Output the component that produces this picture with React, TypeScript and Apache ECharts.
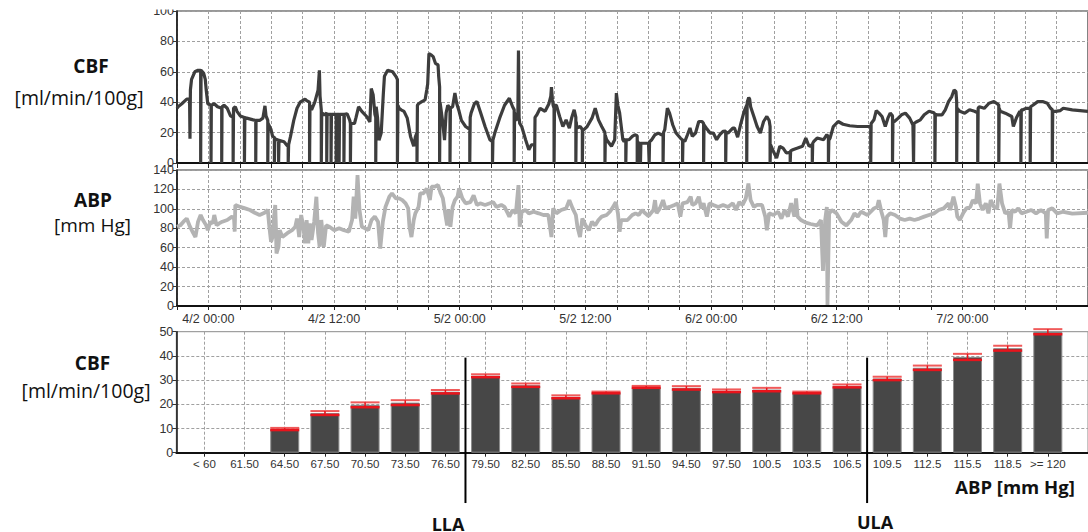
import React, { useEffect, useRef } from "react";
import * as echarts from "echarts";

// CBF trace: [hours from 4/2 00:00, ml/min/100g]
const cbfTrace: [number, number][] = [
  [-3.0, 36], [-2.9, 37], [-2.54, 39], [-2.07, 42], [-1.8, 42], [-1.76, 16], [-1.72, 48], [-1.61, 55], [-1.3, 60], [-0.99, 61], [-0.74, 61], [-0.74, 0], [-0.7, 61], [-0.45, 59], [-0.3, 55], [-0.21, 48], [-0.06, 39],
  [0.25, 38], [0.25, 0], [0.28, 38], [0.56, 39], [0.87, 37], [1.27, 36], [1.27, 0], [1.3, 37], [1.49, 38], [1.8, 36], [2.11, 31], [2.36, 30], [2.36, 0], [2.4, 36], [2.57, 37], [2.73, 34], [3.04, 31], [3.44, 30], [3.44, 0], [3.48, 30], [3.66, 29.5], [4.28, 28.4], [4.52, 28], [4.52, 0], [4.55, 28], [4.89, 28], [5.2, 29.5], [5.4, 37.6], [5.5, 31], [5.67, 28], [5.67, 0], [5.7, 26], [5.98, 22], [6.13, 17.5], [6.3, 17], [6.3, 0], [6.34, 16], [6.7, 15], [6.7, 0], [6.74, 15], [7.22, 14], [7.53, 11.4], [7.62, 11], [7.62, 0], [7.66, 12], [7.84, 17.5],
  [8.15, 28], [8.46, 36], [8.76, 40], [9.23, 42], [9.38, 41], [9.66, 40], [9.66, 0], [9.7, 38], [9.85, 35], [10.16, 40], [10.47, 48], [10.6, 61], [10.66, 44], [10.78, 35], [10.78, 0], [10.82, 33], [11.09, 31.7], [11.3, 33], [11.3, 0], [11.34, 32], [11.71, 32], [11.71, 0], [11.75, 32], [12.2, 32], [12.2, 0], [12.24, 32], [12.48, 32], [12.48, 0], [12.52, 32], [12.94, 32], [12.94, 0], [12.98, 32], [13.25, 32.3], [13.5, 28], [13.56, 26], [13.56, 0], [13.6, 26], [13.95, 26], [14.1, 30], [14.34, 37], [14.65, 34], [15.11, 30.6], [15.42, 27], [15.55, 49], [15.73, 45], [15.9, 32], [15.98, 30], [15.98, 0], [16.02, 37], [16.15, 30], [16.29, 15], [16.5, 19.7], [16.7, 45], [16.81, 57], [17.12, 61], [17.59, 60], [17.9, 57], [18.05, 55], [18.05, 0], [18.1, 38], [18.21, 36],
  [18.4, 35], [18.68, 34], [18.99, 29.5], [19.3, 17.5], [19.61, 11], [19.76, 17], [19.92, 20], [19.92, 0], [19.96, 38], [20.07, 39], [20.38, 40.4], [20.69, 41.5], [20.85, 48], [20.94, 52], [21.06, 72], [21.3, 71], [21.46, 70], [21.68, 65.6], [21.93, 64.5], [21.99, 57], [22.08, 50], [22.08, 0], [22.12, 40], [22.18, 37], [22.39, 26], [22.55, 15], [22.7, 33], [22.86, 38], [23.07, 36], [23.07, 0], [23.11, 36], [23.32, 37], [23.54, 46], [23.72, 39], [23.94, 34], [24.16, 28], [24.56, 24], [24.96, 22], [24.96, 0], [25.0, 30], [25.09, 33], [25.4, 39], [25.64, 40.4], [25.95, 34], [26.42, 24], [26.88, 15.3], [27.13, 14], [27.13, 0], [27.17, 15], [27.35, 19.7], [27.81, 29.5], [28.28, 38], [28.74, 42.6], [29.05, 37], [29.2, 35], [29.2, 0], [29.24, 33], [29.36, 28], [29.55, 30], [29.61, 74], [29.67, 30], [29.73, 26], [29.92, 24], [30.29, 15.3], [30.6, 8.7], [30.85, 12], [31.15, 12], [31.15, 0], [31.19, 30], [31.37, 31.7], [31.68, 36], [32.15, 34], [32.52, 39], [32.7, 44], [32.76, 50], [32.85, 42], [32.92, 38], [33.01, 36], [33.01, 0], [33.05, 38], [33.23, 38], [33.54, 30.6], [33.85, 24], [34.16, 28.4], [34.47, 23], [34.7, 30], [34.93, 35], [35.09, 30], [35.09, 0], [35.13, 27], [35.18, 23], [35.5, 24], [35.71, 22], [35.71, 0], [35.75, 22], [35.86, 21.9], [36.17, 24], [36.63, 29.5], [36.94, 36], [37.25, 28.4], [37.56, 24], [37.87, 20], [37.87, 0], [37.91, 18], [38.03, 15.3], [38.49, 11], [38.8, 15.3], [38.96, 46], [39.1, 38], [39.27, 33], [39.58, 15.3], [39.7, 14], [39.86, 16], [39.86, 0], [39.9, 15.3],
  [40.17, 15.3], [40.48, 17.5], [40.73, 18.6], [40.95, 18], [40.95, 0], [40.99, 14], [41.1, 13], [41.26, 13], [41.26, 0], [41.3, 13], [41.57, 13], [42.03, 13], [42.09, 13], [42.09, 0], [42.13, 14], [42.34, 15.3], [42.65, 18.6], [42.96, 19.7], [43.27, 18.6], [43.42, 18], [43.42, 0], [43.46, 20], [43.58, 21.9], [43.83, 36], [44.04, 32.8], [44.35, 25], [44.66, 19.7], [45.07, 16.4], [45.28, 15], [45.28, 0], [45.32, 15], [45.5, 14.2], [45.75, 18.6], [45.99, 23], [46.21, 17.5], [46.52, 19.7], [46.83, 27.3], [47.14, 27.3], [47.29, 26], [47.29, 0], [47.33, 25], [47.54, 23], [47.91, 19.7], [48.22, 19.7], [48.53, 15.3], [48.84, 18.6], [49.15, 20.8], [49.4, 21], [49.4, 0], [49.44, 20], [49.62, 19.7], [50.08, 23], [50.24, 23], [50.54, 17], [50.85, 26], [51.16, 34], [51.41, 38], [51.41, 0], [51.45, 40], [51.6, 43], [51.69, 42], [51.78, 37], [52.09, 30.6], [52.4, 24], [52.71, 19.7], [53.02, 27.3], [53.33, 30.6], [53.55, 28], [53.64, 24], [53.64, 0], [53.68, 12], [53.95, 7.7], [54.26, 3.3], [54.57, 11], [54.88, 9.8], [55.19, 6.6], [55.56, 7], [55.56, 0], [55.6, 8], [55.81, 8.7], [56.27, 9.8], [56.74, 11], [57.05, 16.4], [57.36, 11], [57.67, 12], [57.67, 0], [57.71, 13], [57.82, 14.2], [58.13, 16.4], [58.75, 15.3], [59.06, 18.6], [59.21, 17], [59.21, 0], [59.25, 15], [59.37, 16.4], [59.68, 24], [60.14, 27.3], [60.61, 25.5], [61.24, 24.5], [62.0, 24], [63.25, 24], [63.25, 0],
  [63.29, 26], [63.56, 28.4], [63.78, 34.5], [64.02, 33], [64.33, 30.6], [64.64, 24], [64.89, 29.5], [65.11, 32.8], [65.33, 31], [65.33, 0], [65.37, 27], [65.51, 27.3], [65.88, 29.5], [66.19, 31.7], [66.56, 32.8], [66.97, 29.5], [67.28, 25], [67.34, 25], [67.34, 0], [67.38, 26], [67.59, 27], [67.99, 28.4], [68.36, 31.7], [68.82, 34], [69.29, 33], [69.38, 32], [69.38, 0], [69.42, 32], [69.6, 31.7], [70.06, 31.7], [70.37, 35], [70.68, 40.4], [70.99, 43.7], [71.21, 48], [71.39, 47], [71.46, 40], [71.46, 0], [71.5, 36], [71.76, 34], [72.23, 32.8], [72.69, 35], [73.16, 34], [73.47, 33], [73.47, 0], [73.51, 36], [73.62, 37], [74.09, 36], [74.55, 39.3], [75.02, 40.4], [75.33, 39], [75.48, 38], [75.48, 0], [75.52, 36], [75.63, 34], [76.1, 32.8], [76.72, 30.6], [76.87, 24], [77.18, 30], [77.49, 34], [77.59, 33], [77.59, 0], [77.63, 35], [77.8, 35], [78.11, 36], [78.48, 36], [78.48, 0], [78.52, 37], [78.73, 38], [79.2, 40.4], [79.66, 40.4], [80.12, 39.3], [80.43, 36], [80.59, 35], [80.59, 0], [80.63, 34], [80.9, 34], [81.36, 34.5], [81.64, 36], [82.5, 35], [84, 34],
];

// ABP trace: [hours from 4/2 00:00, mm Hg]
const abpTrace: [number, number][] = [
  [-3.0, 81.6], [-2.69, 83], [-2.38, 86.8], [-2.07, 90], [-1.76, 81.6], [-1.45, 75], [-1.24, 71], [-0.99, 86.8], [-0.74, 93.7], [-0.52, 88.5], [-0.21, 83], [-0.06, 78], [0.19, 86.8], [0.41, 85], [0.56, 93.7], [0.78, 83], [1.02, 85], [1.33, 86.8], [1.8, 88.5], [2.26, 92], [2.45, 90], [2.51, 76.5], [2.57, 104], [3.04, 102], [3.5, 100.5], [3.97, 98.8], [4.43, 96], [4.89, 93.7], [5.36, 96], [5.67, 98.8], [5.82, 81.6], [5.98, 66], [6.13, 71], [6.25, 90], [6.38, 104], [6.45, 80], [6.5, 54], [6.69, 61], [6.81, 78], [7.06, 71], [7.53, 75], [7.99, 78], [8.3, 81.6], [8.46, 90], [8.67, 71], [8.86, 93.7], [9.07, 81.6], [9.23, 64.5], [9.38, 88.5], [9.54, 64.5], [9.69, 85], [9.85, 68], [10.1, 86.8], [10.31, 112.5], [10.47, 75], [10.62, 61], [10.78, 88.5], [11.02, 61], [11.24, 83], [11.55, 81.6], [12.02, 78], [12.48, 80], [12.94, 78], [13.41, 76.5], [13.72, 88.5], [13.87, 112.5], [14.03, 90], [14.24, 134.8], [14.43, 98.8], [14.65, 81.6], [14.96, 80], [15.27, 78], [15.58, 88.5], [15.89, 92], [16.2, 86.8], [16.41, 59], [16.66, 86.8], [16.91, 102], [17.28, 112.5], [17.53, 116], [17.9, 110.8], [18.21, 110.8],
  [18.52, 109], [18.83, 105.7], [19.08, 100.5], [19.2, 81.6], [19.39, 71], [19.61, 88.5], [19.76, 95.4], [20.07, 102], [20.23, 116], [20.54, 116], [20.85, 121], [21.15, 109], [21.31, 122.8], [21.62, 122.8], [21.93, 124.5], [22.18, 116], [22.39, 110.8], [22.61, 95.4], [22.8, 83], [22.92, 98.8], [23.11, 81.6], [23.32, 102], [23.54, 109], [23.79, 112.5], [23.94, 121], [24.25, 110.8], [24.56, 105.7], [25.02, 107], [25.33, 114], [25.64, 104], [25.95, 105.7], [26.42, 104], [26.88, 105.7], [27.19, 107], [27.5, 102], [27.97, 104], [28.28, 102], [28.59, 95.4], [28.74, 92], [29.05, 98.8], [29.36, 95.4], [29.61, 124.5], [29.73, 81.6], [29.92, 97], [30.29, 98.8], [30.6, 95.4], [31.06, 97], [31.53, 95.4], [31.99, 93.7], [32.46, 93.7], [32.76, 71], [32.92, 100.5], [33.23, 95.4], [33.69, 98.8], [34.16, 100.5], [34.47, 109], [34.78, 100.5], [35.09, 93.7], [35.24, 81.6], [35.49, 71], [35.71, 90], [36.02, 83], [36.33, 78], [36.63, 86.8], [36.94, 83], [37.25, 88.5], [37.56, 92], [38.03, 93.7], [38.34, 97], [38.65, 102], [38.9, 107], [39.11, 95.4], [39.27, 76.5], [39.42, 88.5], [39.89, 88.5],
  [40.02, 88.5], [40.48, 93.7], [40.79, 95.4], [41.1, 93.7], [41.41, 98.8], [41.72, 95.4], [42.03, 92.6], [42.5, 98.8], [42.65, 109], [42.8, 95.4], [43.11, 100.5], [43.42, 109], [43.64, 100.5], [44.04, 102], [44.51, 104], [44.82, 105.7], [45.07, 92], [45.28, 105.7], [45.75, 107], [46.06, 112.5], [46.21, 104], [46.52, 105.7], [46.83, 112.5], [47.05, 100.5], [47.29, 105.7], [47.6, 92], [47.85, 105.7], [48.22, 104], [48.69, 102], [49.15, 104], [49.62, 102], [50.08, 105.7], [50.39, 98.8], [50.7, 107], [51.01, 104], [51.32, 110.8], [51.57, 126], [51.78, 109], [52.09, 102], [52.4, 104], [52.87, 104], [53.18, 92], [53.33, 78], [53.55, 95.4], [53.95, 93.7], [54.41, 97], [54.72, 90], [55.03, 98.8], [55.34, 92], [55.65, 105.7], [55.96, 92], [56.12, 110.8], [56.27, 92], [56.58, 88.5], [57.05, 85.8], [57.51, 84.4], [58.13, 83], [58.5, 88.5], [58.69, 36], [58.9, 88.5], [59.06, 102], [59.12, 1], [59.28, 95], [59.52, 98.8], [59.99, 95.4], [60.45, 86.8], [60.92, 83], [61.38, 88.5],
  [61.7, 95.4], [62.01, 92], [62.32, 97], [62.63, 95.4], [62.94, 93.7], [63.25, 97], [63.56, 100.5], [63.87, 102], [64.02, 109], [64.27, 97], [64.49, 88.5], [64.64, 71], [64.8, 92], [65.11, 95.4], [65.57, 93.7], [66.04, 90], [66.5, 88.5], [66.97, 90], [67.43, 88.5], [67.89, 90], [68.36, 92], [68.82, 93.7], [69.29, 95.4], [69.75, 98.8], [70.22, 100.5], [70.68, 105.7], [70.84, 98.8], [71.15, 112.5], [71.39, 102], [71.52, 92], [71.76, 88.5], [72.07, 95.4], [72.38, 100.5], [72.76, 102], [73.0, 109], [73.31, 105.7], [73.47, 126], [73.68, 105.7], [73.93, 98.8], [74.24, 105.7], [74.49, 95.4], [74.71, 109], [75.02, 102], [75.33, 100.5], [75.54, 126], [75.79, 105.7], [76.1, 95.4], [76.41, 97], [76.56, 80], [76.72, 98.8], [77.03, 97], [77.34, 100.5], [77.65, 95.4], [78.11, 97], [78.58, 98.8], [79.04, 95.4], [79.5, 98.8], [79.97, 95.4], [80.06, 69.6], [80.19, 98.8], [80.59, 100.5], [81.05, 95.4], [81.64, 97], [82.5, 95], [84, 96],
];

const timeLabelHours = [0, 12, 24, 36, 48, 60, 72];
const timeLabels = ["4/2 00:00", "4/2 12:00", "5/2 00:00", "5/2 12:00", "6/2 00:00", "6/2 12:00", "7/2 00:00"];

const binLabels = ["< 60", "61.50", "64.50", "67.50", "70.50", "73.50", "76.50", "79.50", "82.50", "85.50", "88.50", "91.50", "94.50", "97.50", "100.5", "103.5", "106.5", "109.5", "112.5", "115.5", "118.5", ">= 120"];
const binMean: (number | null)[] = [null, null, 9.8, 16.4, 19.8, 20.7, 25.2, 31.8, 27.9, 23.1, 24.9, 27.2, 26.8, 25.6, 26.1, 24.9, 27.6, 30.7, 35.1, 39.6, 43.2, 50.0];
const binErr: (number | null)[] = [null, null, 0.45, 0.8, 1.0, 1.0, 0.7, 0.6, 0.7, 0.6, 0.35, 0.4, 0.7, 0.55, 0.7, 0.35, 0.6, 0.7, 0.9, 1.25, 1.0, 1.05];

// autoregulation limits, in bin-index units (between bins)
const limitMarks = [
  { name: "LLA", at: 6.5, textX: 448, textY: 524 },
  { name: "ULA", at: 16.5, textX: 875, textY: 522 },
];
const limitTop = 39.3;
const limitBottom = -20.8;

const TICK_FONT = "'Liberation Sans', Arial, sans-serif";
const TITLE_FONT = "'Open Sans', 'Noto Sans', sans-serif";

export default function App() {
  const ref = useRef<HTMLDivElement>(null);

  useEffect(() => {
    if (!ref.current) return;
    const chart = echarts.init(ref.current, undefined, { renderer: "svg" });

    const gridLine = { show: true, lineStyle: { color: "#a0a0a0", type: [3, 2] as any, width: 1 } };
    const axisLineDark = { show: true, onZero: false, lineStyle: { color: "#111", width: 2 } };
    const yAxisLine = { show: true, onZero: false, lineStyle: { color: "#111", width: 1.5 } };
    const yLabel = { show: true, color: "#333", fontSize: 12.5, fontFamily: TICK_FONT, margin: 3 };
    const yTick = { show: true, length: 4, lineStyle: { color: "#333" } };
    const binIdx = binLabels.map((_, i) => i);

    const title = (text: string, x: number, y: number, bold: boolean, size = 19) => ({
      type: "text",
      x,
      y,
      z: 100,
      style: {
        text,
        fill: "#111",
        font: `${bold ? "bold " : ""}${size}px ${TITLE_FONT}`,
        align: "center",
        verticalAlign: "middle",
      },
    });

    const baseGraphics: any[] = [
      title("CBF", 91, 66, true),
      title("[ml/min/100g]", 79, 97, false, 19.5),
      title("ABP", 93, 200, true),
      title("[mm Hg]", 92.5, 225, false),
      title("CBF", 92.5, 363, true),
      title("[ml/min/100g]", 86, 390, false, 19.5),
      title("ABP [mm Hg]", 1015, 486, true, 18.5),
      ...limitMarks.map((m) => title(m.name, m.textX, m.textY, true, 18)),
      { type: "rect", shape: { x: 130, y: 0, width: 45, height: 9.5 }, style: { fill: "#fff" }, z: 100 },
    ];

    const option: any = {
      animation: false,
      grid: [
        { left: 177, top: 11, right: -26, height: 152, show: true, borderColor: "#333", borderWidth: 1.2 },
        { left: 177, top: 170, right: -26, height: 136, show: true, borderColor: "#333", borderWidth: 1.2 },
        { left: 176.3, top: 331.7, right: -19, height: 121, show: true, borderColor: "#8a8a8a", borderWidth: 1 },
      ],
      xAxis: [
        {
          type: "value", gridIndex: 0, min: -3, max: 84, interval: 3,
          axisLine: axisLineDark,
          axisTick: { show: true, length: 5, lineStyle: { color: "#222" } },
          axisLabel: { show: false },
          splitLine: gridLine,
        },
        {
          type: "value", gridIndex: 1, min: -3, max: 84, interval: 3,
          axisLine: axisLineDark,
          axisTick: { show: true, length: 4, lineStyle: { color: "#222" } },
          axisLabel: {
            show: true,
            customValues: timeLabelHours,
            formatter: (v: number) => {
              const k = timeLabelHours.indexOf(Math.round(v));
              return k >= 0 ? timeLabels[k] : "";
            },
            color: "#333", fontSize: 12.5, fontFamily: TICK_FONT, margin: 6,
          },
          splitLine: gridLine,
        },
        {
          type: "value", gridIndex: 2, min: -0.7, max: 22,
          axisLine: axisLineDark,
          axisTick: { show: true, length: 4, customValues: binIdx, lineStyle: { color: "#222" } },
          axisLabel: {
            show: true,
            customValues: binIdx,
            formatter: (v: number) => binLabels[Math.round(v)] ?? "",
            color: "#333", fontSize: 11.5, fontFamily: TICK_FONT, margin: 5,
          },
          splitLine: gridLine,
        },
      ],
      yAxis: [
        { type: "value", gridIndex: 0, min: 0, max: 100, interval: 20, axisLine: yAxisLine, axisTick: yTick, axisLabel: yLabel, splitLine: gridLine },
        { type: "value", gridIndex: 1, min: 0, max: 140, interval: 20, axisLine: yAxisLine, axisTick: yTick, axisLabel: yLabel, splitLine: gridLine },
        { type: "value", gridIndex: 2, min: 0, max: 50, interval: 10, axisLine: yAxisLine, axisTick: yTick, axisLabel: yLabel, splitLine: gridLine },
      ],
      series: [
        {
          type: "line", xAxisIndex: 0, yAxisIndex: 0, data: cbfTrace,
          showSymbol: false, symbol: "none",
          lineStyle: { color: "#3d3d3d", width: 3.2 }, z: 3,
        },
        {
          type: "line", xAxisIndex: 1, yAxisIndex: 1, data: abpTrace,
          showSymbol: false, symbol: "none",
          lineStyle: { color: "#b3b3b3", width: 3.8 }, z: 3,
        },
        {
          type: "bar", xAxisIndex: 2, yAxisIndex: 2,
          data: binMean.map((v, i) => (v == null ? null : [i, v])).filter((d) => d),
          barWidth: 29,
          itemStyle: { color: "#474747", borderColor: "#8c8c8c", borderWidth: 1 },
          z: 3,
        },
        {
          type: "custom", xAxisIndex: 2, yAxisIndex: 2, z: 4,
          data: binMean.map((v, i) => (v == null ? null : [i, v, binErr[i]])).filter((d) => d),
          renderItem: (params: any, api: any) => {
            const x = api.value(0);
            const m = api.value(1);
            const e = api.value(2);
            const top = api.coord([x, m + e]);
            const bot = api.coord([x, m - e]);
            const half = 14.5;
            return {
              type: "group",
              children: [
                { type: "line", shape: { x1: top[0] - half, y1: top[1], x2: top[0] + half, y2: top[1] }, style: { stroke: "#f05a5a", lineWidth: 2 } },
                { type: "line", shape: { x1: bot[0] - half, y1: bot[1], x2: bot[0] + half, y2: bot[1] }, style: { stroke: "#e8141c", lineWidth: 2.5 } },
                { type: "line", shape: { x1: top[0], y1: top[1], x2: bot[0], y2: bot[1] }, style: { stroke: "#e8141c", lineWidth: 1.5 } },
              ],
            };
          },
        },
      ],
      graphic: baseGraphics,
    };

    chart.setOption(option);

    const limitLines = limitMarks.map((m) => {
      const p1 = chart.convertToPixel({ gridIndex: 2 }, [m.at, limitTop]) as number[];
      const p2 = chart.convertToPixel({ gridIndex: 2 }, [m.at, limitBottom]) as number[];
      return {
        type: "line",
        z: 100,
        shape: { x1: p1[0], y1: p1[1], x2: p2[0], y2: p2[1] },
        style: { stroke: "#000", lineWidth: 2 },
      };
    });
    chart.setOption({ graphic: [...baseGraphics, ...limitLines] }, { replaceMerge: ["graphic"] } as any);

    return () => chart.dispose();
  }, []);

  return (
    <div
      ref={ref}
      style={{ position: "absolute", left: 0, top: 0, width: 1088, height: 532, background: "#fff" }}
    />
  );
}
